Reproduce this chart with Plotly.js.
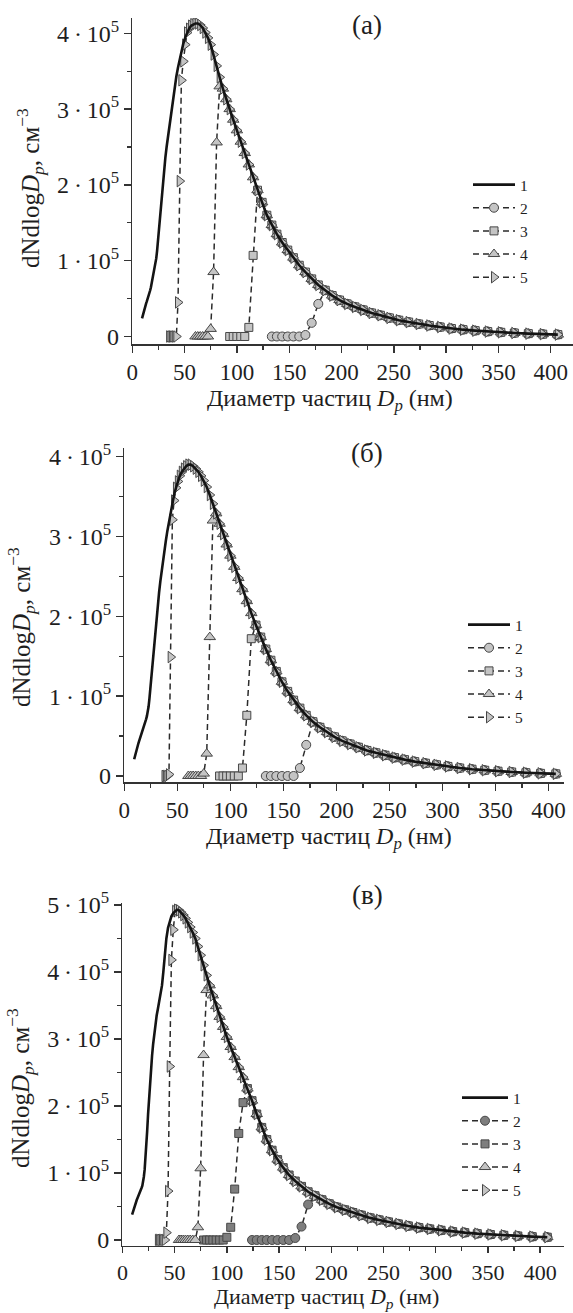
<!DOCTYPE html>
<html>
<head>
<meta charset="utf-8">
<script src="https://cdn.plot.ly/plotly-3.0.1.min.js"></script>
<style>html,body{margin:0;padding:0;background:#fff;}#chart{width:573px;height:1313px;}</style>
</head>
<body>
<div id="chart"></div>
<script>
// Particle diameters (nm) of the size bins
const DP = [9.31, 9.65, 10.0, 10.4, 10.7, 11.1, 11.5, 11.9, 12.3, 12.8, 13.3, 13.8, 14.3, 14.9, 15.4, 16.0, 16.5, 17.1, 17.8, 18.4, 19.1, 19.8, 20.5, 21.3, 22.1, 22.9, 23.7, 24.6, 25.5, 26.4, 27.4, 28.4, 29.4, 30.5, 31.6, 32.8, 34.0, 35.2, 36.5, 37.9, 39.2, 40.6, 42.1, 43.7, 45.3, 46.9, 48.7, 50.5, 52.3, 54.2, 56.2, 58.3, 60.4, 62.6, 64.9, 67.3, 69.8, 72.3, 74.9, 77.7, 80.6, 83.5, 86.6, 89.8, 93.1, 96.5, 100.0, 103.7, 107.5, 111.4, 115.5, 119.7, 124.1, 128.6, 133.4, 138.2, 143.3, 148.6, 154.0, 159.6, 165.5, 171.5, 177.8, 184.4, 191.1, 198.1, 205.4, 212.9, 220.7, 228.8, 237.2, 245.8, 254.8, 264.2, 273.8, 283.9, 294.3, 305.1, 316.2, 327.8, 339.8, 352.3, 365.2, 378.6, 392.4, 406.8];

// Curve 1, dNdlogDp in units of 10^5 cm^-3, panels (а), (б), (в)
const A_S1 = [0.24, 0.26, 0.28, 0.30, 0.32, 0.34, 0.36, 0.38, 0.40, 0.42, 0.44, 0.46, 0.48, 0.50, 0.52, 0.55, 0.58, 0.61, 0.65, 0.69, 0.74, 0.79, 0.84, 0.89, 0.95, 1.03, 1.13, 1.28, 1.44, 1.60, 1.76, 1.92, 2.07, 2.22, 2.36, 2.50, 2.63, 2.76, 2.90, 3.04, 3.17, 3.30, 3.43, 3.55, 3.66, 3.76, 3.86, 3.94, 4.01, 4.06, 4.10, 4.12, 4.13, 4.13, 4.11, 4.07, 4.01, 3.94, 3.85, 3.72, 3.57, 3.42, 3.27, 3.13, 3.00, 2.86, 2.72, 2.57, 2.42, 2.27, 2.10, 1.93, 1.77, 1.60, 1.47, 1.35, 1.24, 1.14, 1.04, 0.94, 0.85, 0.76, 0.68, 0.61, 0.54, 0.48, 0.43, 0.39, 0.35, 0.31, 0.28, 0.245, 0.215, 0.19, 0.165, 0.145, 0.125, 0.105, 0.09, 0.077, 0.065, 0.055, 0.046, 0.038, 0.031, 0.025];
const B_S1 = [0.21, 0.23, 0.25, 0.27, 0.29, 0.31, 0.33, 0.35, 0.37, 0.39, 0.41, 0.43, 0.45, 0.47, 0.49, 0.51, 0.53, 0.55, 0.58, 0.61, 0.64, 0.67, 0.71, 0.75, 0.80, 0.87, 0.97, 1.10, 1.28, 1.45, 1.60, 1.74, 1.88, 2.02, 2.15, 2.30, 2.44, 2.57, 2.70, 2.83, 2.95, 3.07, 3.19, 3.31, 3.42, 3.52, 3.61, 3.69, 3.76, 3.81, 3.85, 3.88, 3.90, 3.90, 3.88, 3.85, 3.81, 3.76, 3.70, 3.62, 3.52, 3.41, 3.29, 3.16, 3.03, 2.90, 2.76, 2.62, 2.48, 2.34, 2.19, 2.04, 1.89, 1.74, 1.59, 1.45, 1.31, 1.18, 1.06, 0.95, 0.85, 0.76, 0.68, 0.61, 0.55, 0.49, 0.44, 0.40, 0.36, 0.32, 0.29, 0.26, 0.23, 0.205, 0.18, 0.16, 0.14, 0.12, 0.10, 0.085, 0.072, 0.06, 0.05, 0.041, 0.033, 0.027];
const C_S1 = [0.38, 0.40, 0.42, 0.44, 0.46, 0.48, 0.50, 0.52, 0.54, 0.56, 0.58, 0.60, 0.62, 0.64, 0.66, 0.68, 0.70, 0.72, 0.75, 0.78, 0.81, 0.86, 0.94, 1.05, 1.20, 1.40, 1.62, 1.88, 2.12, 2.35, 2.55, 2.75, 2.92, 3.08, 3.22, 3.35, 3.45, 3.55, 3.65, 3.80, 4.00, 4.25, 4.50, 4.66, 4.76, 4.83, 4.88, 4.91, 4.93, 4.92, 4.89, 4.85, 4.80, 4.74, 4.67, 4.59, 4.50, 4.38, 4.25, 4.10, 3.95, 3.80, 3.65, 3.49, 3.33, 3.18, 3.03, 2.88, 2.73, 2.58, 2.43, 2.26, 2.08, 1.88, 1.68, 1.50, 1.34, 1.20, 1.08, 0.97, 0.88, 0.80, 0.72, 0.66, 0.60, 0.54, 0.49, 0.45, 0.41, 0.37, 0.33, 0.30, 0.27, 0.24, 0.21, 0.185, 0.165, 0.145, 0.125, 0.11, 0.095, 0.082, 0.07, 0.06, 0.05, 0.042];

// Curves 2-5: their own points before they join curve 1 (x in nm, y in 10^5 cm^-3)
// Panel (а)
const A_S2_X = [133.4, 138.2, 143.3, 148.6, 154.0, 159.6, 165.5, 171.5, 177.8];
const A_S2_Y = [0, 0, 0, 0, 0, 0, 0.02, 0.18, 0.43];
const A_S3_X = [93.1, 96.5, 100.0, 103.7, 107.5, 111.4, 115.5];
const A_S3_Y = [0, 0, 0, 0, 0, 0.12, 1.07];
const A_S4_X = [60.4, 62.6, 64.9, 67.3, 69.8, 72.3, 74.9, 77.7, 80.6, 83.5];
const A_S4_Y = [0, 0, 0, 0, 0, 0, 0.1, 0.85, 2.56, 3.3];
const A_S5_X = [35.2, 36.5, 37.9, 39.2, 40.6, 42.1, 43.7, 45.3, 46.9, 48.7, 50.5];
const A_S5_Y = [0, 0, 0, 0, 0, 0, 0.45, 2.05, 3.38, 3.63, 3.85];
// Panel (б)
const B_S2_X = [133.4, 138.2, 143.3, 148.6, 154.0, 159.6, 165.5, 171.5];
const B_S2_Y = [0, 0, 0, 0, 0, 0, 0.1, 0.39];
const B_S3_X = [89.8, 93.1, 96.5, 100.0, 103.7, 107.5, 111.4, 115.5, 119.7];
const B_S3_Y = [0, 0, 0, 0, 0, 0, 0.1, 0.76, 1.72];
const B_S4_X = [60.4, 62.6, 64.9, 67.3, 69.8, 72.3, 74.9, 77.7, 80.6, 83.5];
const B_S4_Y = [0, 0, 0, 0, 0, 0, 0.03, 0.28, 1.74, 3.2];
const B_S5_X = [37.9, 39.2, 40.6, 42.1, 43.7, 45.3, 46.9];
const B_S5_Y = [0, 0, 0, 0.02, 1.49, 3.21, 3.45];
// Panel (в)
const C_S2_X = [124.1, 128.6, 133.4, 138.2, 143.3, 148.6, 154.0, 159.6, 165.5, 171.5, 177.8];
const C_S2_Y = [0, 0, 0, 0, 0, 0, 0, 0, 0.03, 0.2, 0.53];
const C_S3_X = [77.7, 80.6, 83.5, 86.6, 89.8, 93.1, 96.5, 100.0, 103.7, 107.5, 111.4, 115.5];
const C_S3_Y = [0, 0, 0, 0, 0, 0, 0, 0.04, 0.19, 0.76, 1.59, 2.05];
const C_S4_X = [54.2, 56.2, 58.3, 60.4, 62.6, 64.9, 67.3, 69.8, 72.3, 74.9, 77.7, 80.6];
const C_S4_Y = [0, 0, 0, 0, 0, 0, 0, 0, 0.19, 1.07, 2.76, 3.73];
const C_S5_X = [34.0, 35.2, 36.5, 37.9, 39.2, 40.6, 42.1, 43.7, 45.3, 46.9, 48.7];
const C_S5_Y = [0, 0, 0, 0, 0, 0, 0.11, 0.73, 2.59, 4.18, 4.63];

const SERIES_NAMES = ['1', '2', '3', '4', '5'];
const PANEL_LABELS = ['(а)', '(б)', '(в)'];
const X_TITLE = 'Диаметр частиц <i>D</i><sub><i>p</i></sub> (нм)';
const Y_TITLE = 'dNdlog<i>D</i><sub><i>p</i></sub>, см<sup>−3</sup>';
const Y_TICKS_AB = [0, 1, 2, 3, 4];
const Y_TICKS_C = [0, 1, 2, 3, 4, 5];
const Y_TICKTEXT = ['0', '1\u2009·\u200910<sup>5</sup>', '2\u2009·\u200910<sup>5</sup>', '3\u2009·\u200910<sup>5</sup>', '4\u2009·\u200910<sup>5</sup>', '5\u2009·\u200910<sup>5</sup>'];

// ---------- build traces ----------
function joined(leadX, leadY, curve) {
  const last = leadX[leadX.length - 1];
  const x = leadX.slice(), y = leadY.slice();
  DP.forEach((d, i) => { if (d > last) { x.push(d); y.push(curve[i]); } });
  return {x, y};
}

const SYMBOLS = ['circle', 'square', 'triangle-up', 'triangle-right'];
const SIZES = [9, 8, 10, 10];
const LIGHT = '#c4c4c4', DARK = '#7e7e7e';

function panelTraces(curve, leads, fills, xa, ya, leg) {
  const traces = [];
  leads.forEach((ld, k) => {
    const d = joined(ld[0], ld[1], curve);
    traces.push({
      type: 'scatter', mode: 'lines+markers', x: d.x, y: d.y,
      name: SERIES_NAMES[k + 1], legend: leg, legendrank: k + 2,
      xaxis: xa, yaxis: ya,
      line: {color: '#2b2b2b', width: 1.5, dash: '6px,4px'},
      marker: {symbol: SYMBOLS[k], size: SIZES[k], color: fills[k], line: {color: '#474747', width: 1}}
    });
  });
  traces.push({
    type: 'scatter', mode: 'lines', x: DP, y: curve,
    name: SERIES_NAMES[0], legend: leg, legendrank: 1,
    xaxis: xa, yaxis: ya,
    line: {color: '#141414', width: 2.6}
  });
  return traces;
}

const data = [].concat(
  panelTraces(A_S1, [[A_S2_X, A_S2_Y], [A_S3_X, A_S3_Y], [A_S4_X, A_S4_Y], [A_S5_X, A_S5_Y]],
    [LIGHT, LIGHT, LIGHT, LIGHT], 'x', 'y', 'legend'),
  panelTraces(B_S1, [[B_S2_X, B_S2_Y], [B_S3_X, B_S3_Y], [B_S4_X, B_S4_Y], [B_S5_X, B_S5_Y]],
    [LIGHT, LIGHT, LIGHT, LIGHT], 'x2', 'y2', 'legend2'),
  panelTraces(C_S1, [[C_S2_X, C_S2_Y], [C_S3_X, C_S3_Y], [C_S4_X, C_S4_Y], [C_S5_X, C_S5_Y]],
    [DARK, DARK, LIGHT, LIGHT], 'x3', 'y3', 'legend3')
);

// ---------- layout ----------
const W = 573, H = 1313;
const FONT = "'Liberation Serif', 'Times New Roman', serif";
const INK = '#1e1e1e';
const px = v => v / W;
const py = v => 1 - v / H;

function xAxis(l, r, max, anchor, fs, tl) {
  return {
    domain: [px(l), px(r)], range: [0, max], anchor: anchor,
    showline: true, linecolor: '#333', linewidth: 1.4, mirror: false,
    showgrid: false, zeroline: false,
    ticks: 'outside', ticklen: tl, tickwidth: 1.4, tickcolor: '#333',
    tick0: 0, dtick: 50,
    minor: {ticks: 'outside', ticklen: 4, tickwidth: 1.2, tickcolor: '#333', dtick: 25, showgrid: false},
    tickfont: {family: FONT, size: fs, color: INK}
  };
}
function yAxis(top, bottom, lo, hi, anchor, ticks) {
  return {
    domain: [py(bottom), py(top)], range: [lo, hi], anchor: anchor,
    showline: true, linecolor: '#333', linewidth: 1.4, mirror: false,
    showgrid: false, zeroline: false,
    ticks: 'outside', ticklen: 7, tickwidth: 1.4, tickcolor: '#333',
    tickmode: 'array', tickvals: ticks, ticktext: Y_TICKTEXT.slice(0, ticks.length),
    minor: {ticks: 'outside', ticklen: 4, tickwidth: 1.2, tickcolor: '#333', dtick: 0.5, tick0: 0, showgrid: false},
    tickfont: {family: FONT, size: 24, color: INK}
  };
}
function legendAt(left, top, iw) {
  return {
    x: px(left), xanchor: 'left', y: py(top), yanchor: 'top',
    bgcolor: 'rgba(0,0,0,0)', borderwidth: 0, itemwidth: iw,
    traceorder: 'normal', font: {family: FONT, size: 15.5, color: INK}
  };
}
function ann(text, x, y, size, angle, yanchor) {
  return {text: text, x: px(x), y: py(y), xref: 'paper', yref: 'paper',
          xanchor: 'center', yanchor: yanchor || 'middle', showarrow: false, textangle: angle || 0,
          borderpad: 0, font: {family: FONT, size: size, color: INK}};
}

const layout = {
  width: W, height: H,
  margin: {l: 0, r: 0, t: 0, b: 0},
  paper_bgcolor: '#ffffff', plot_bgcolor: 'rgba(0,0,0,0)',
  font: {family: FONT, color: INK},
  showlegend: true,
  xaxis: xAxis(132.3, 573, 421.3, 'y', 23, 7),
  yaxis: yAxis(18, 344.3, -0.103, 4.202, 'x', Y_TICKS_AB),
  xaxis2: xAxis(124.3, 564, 414.5, 'y2', 23, 7),
  yaxis2: yAxis(448.3, 782.3, -0.079, 4.105, 'x2', Y_TICKS_AB),
  xaxis3: xAxis(122.4, 564, 422.8, 'y3', 22, 6),
  yaxis3: yAxis(903.3, 1245.7, -0.085, 5.025, 'x3', Y_TICKS_C),
  legend: legendAt(468, 168, 42),
  legend2: legendAt(463, 608, 42),
  legend3: legendAt(457, 1081, 46),
  annotations: [
    ann(PANEL_LABELS[0], 367, 25, 27),
    ann(PANEL_LABELS[1], 367, 453, 27),
    ann(PANEL_LABELS[2], 367, 895, 27),
    ann(X_TITLE, 330, 400, 24),
    ann(X_TITLE, 329, 838, 24),
    ann(X_TITLE, 326, 1313, 22, 0, 'bottom'),
    ann(Y_TITLE, 30, 188, 25, -90),
    ann(Y_TITLE, 21, 627, 25, -90),
    ann(Y_TITLE, 20, 1088, 25, -90)
  ]
};

Plotly.newPlot('chart', data, layout, {displayModeBar: false, staticPlot: true});
</script>
</body>
</html>
